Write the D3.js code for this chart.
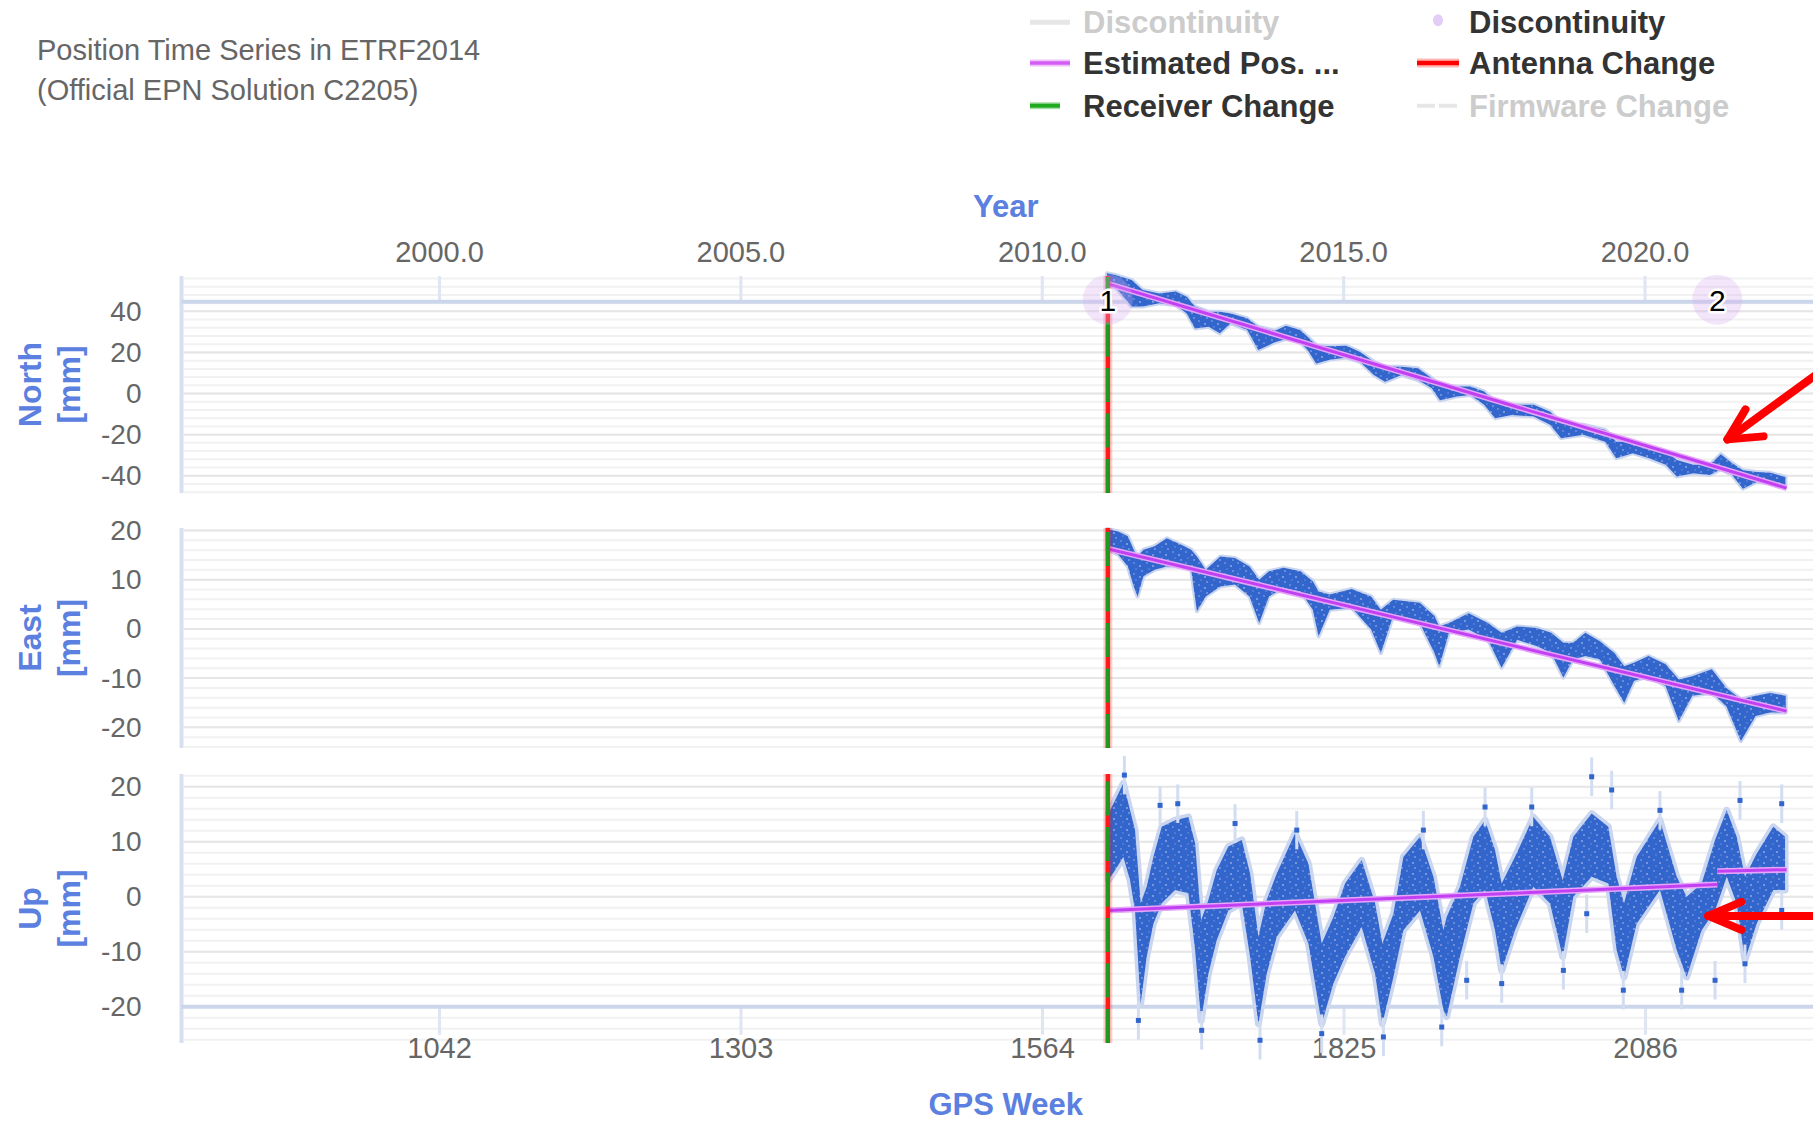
<!DOCTYPE html>
<html>
<head>
<meta charset="utf-8">
<script src="https://cdn.jsdelivr.net/npm/d3@7"></script>
<style>
  body { margin: 0; background: #fff; }
  svg text { font-family: "Liberation Sans", Arial, Helvetica, sans-serif; }
</style>
</head>
<body>
<svg id="chart" width="1813" height="1122"></svg>
<script>
// ---- Station position time series (GPS week vs. mm) ----

// North component: cloud envelope (upper / lower edge) at sampled GPS weeks
const northWeeks = [1620.2,1627.3,1641.6,1651.1,1665.4,1679.7,1689.3,1696.4,1708.3,1717.9,1727.4,1741.7,1751.2,1765.5,1775.1,1787.0,1794.1,1801.3,1813.2,1827.5,1839.4,1851.3,1860.9,1875.2,1889.5,1901.4,1908.5,1922.8,1934.8,1946.7,1956.2,1970.5,1989.6,2003.9,2013.4,2032.5,2051.5,2061.1,2075.4,2089.7,2104.0,2113.5,2127.8,2142.1,2151.6,2161.2,2170.7,2182.6,2194.5,2207.5];
const northHi    = [58.5,57.7,55.2,50.4,48.7,49.6,47.1,42.3,39.8,39.8,39.0,36.6,32.5,30.6,33.0,31.0,27.5,23.5,23.0,23.2,20.2,15.5,13.0,13.0,12.3,7.5,4.0,3.4,3.4,1.0,-3.9,-5.5,-5.5,-8.8,-14.4,-15.2,-17.7,-23.4,-23.4,-25.8,-28.2,-32.3,-34.7,-34.7,-29.5,-33.8,-37.3,-38.2,-38.6,-40.6];
const northLo    = [55.2,52.0,42.3,42.3,43.9,43.1,39.0,31.7,32.5,29.3,34.2,30.9,21.2,24.9,26.5,25.3,21.1,14.6,16.5,17.5,15.4,9.0,5.7,9.0,6.6,2.6,-3.3,-1.5,-0.7,-5.5,-12.0,-10.4,-11.2,-15.2,-21.7,-20.1,-23.4,-31.5,-29.0,-31.5,-34.7,-40.4,-38.8,-39.6,-36.8,-39.5,-46.3,-43.0,-43.4,-45.4];

// East component
const eastWeeks = [1620.2,1629.9,1638.3,1643.4,1646.7,1651.8,1661.5,1672.0,1684.6,1693.1,1698.1,1705.7,1718.3,1731.0,1743.6,1752.0,1760.5,1773.1,1787.8,1798.4,1803.4,1813.1,1832.0,1848.9,1857.3,1867.9,1891.0,1903.7,1907.9,1916.3,1933.2,1950.0,1961.8,1975.3,1992.1,2004.8,2015.3,2023.7,2034.3,2046.9,2059.5,2068.0,2076.4,2089.0,2103.8,2115.2,2126.9,2143.8,2156.4,2169.0,2181.7,2194.3,2207.8];
const eastHi    = [20.3,19.8,18.8,16.1,14.7,16.1,16.8,18.4,17.1,16.1,14.7,12.0,14.7,14.4,12.7,10.0,11.7,12.4,11.7,9.7,7.6,7.0,8.1,6.6,3.9,5.9,5.3,2.6,0.5,1.2,3.2,1.2,-0.8,0.5,0.2,-0.8,-2.8,-2.8,-0.8,-2.5,-4.9,-7.6,-6.9,-5.5,-7.2,-10.3,-9.6,-8.2,-12.0,-14.3,-13.6,-13.0,-13.6];
const eastLo    = [16.1,15.1,12.7,8.6,6.6,10.7,12.0,12.7,12.7,12.0,3.6,6.6,8.6,9.0,6.6,1.2,6.6,8.3,7.6,3.9,-1.5,3.9,4.3,-0.1,-4.9,2.6,1.2,-4.9,-7.6,-0.8,-0.1,-2.2,-7.9,-2.2,-3.5,-4.9,-9.9,-6.2,-5.5,-6.2,-11.6,-15.0,-10.6,-9.6,-11.6,-18.7,-13.6,-13.0,-15.7,-22.8,-17.7,-17.0,-17.0];

// Up component
const upWeeks = [1621.4,1627.2,1634.4,1640.2,1644.5,1649.4,1654.6,1660.4,1667.6,1679.2,1690.7,1696.5,1701.7,1708.0,1715.2,1725.3,1736.9,1744.1,1751.3,1758.5,1767.2,1783.0,1794.6,1806.1,1816.2,1826.3,1840.7,1852.3,1858.6,1868.2,1876.8,1891.2,1902.8,1911.4,1914.3,1925.8,1937.4,1947.5,1956.1,1961.9,1973.4,1989.3,2003.7,2014.7,2023.9,2039.8,2054.2,2061.4,2067.8,2078.7,2098.9,2113.4,2122.0,2135.0,2146.6,2156.7,2165.3,2172.5,2182.6,2197.0,2207.2];
const upHi    = [15.1,17.5,20.6,15.7,12.1,-1.2,1.8,7.2,12.7,13.9,14.5,9.7,-4.3,-0.6,4.8,9.1,10.3,4.2,-7.3,-0.6,4.2,11.5,6.0,-8.5,-3.7,2.4,6.6,-1.2,-8.5,-3.1,7.2,10.9,3.6,-6.1,-3.7,1.8,10.9,13.9,8.5,2.4,7.2,14.5,10.9,3.0,10.9,15.1,12.7,3.6,-1.2,7.2,13.9,3.6,0.0,2.4,10.3,15.7,10.9,3.6,7.8,12.7,10.9];
const upLo    = [3.0,4.8,7.2,3.0,-2.5,-19.4,-10.9,-4.9,-1.2,1.2,0.6,-9.7,-22.5,-14.0,-7.9,-2.5,-1.2,-10.9,-23.1,-14.0,-7.3,-2.5,-8.5,-23.1,-15.8,-10.9,-5.5,-14.0,-23.1,-14.6,-6.1,-2.5,-10.9,-20.6,-21.8,-10.9,-1.2,1.2,-6.1,-13.4,-6.1,1.8,-1.2,-10.9,0.0,3.6,2.4,-9.7,-14.6,-4.9,1.2,-9.7,-14.6,-6.1,-2.5,3.6,-1.2,-11.5,-4.9,1.2,1.2];

// Isolated Up solutions lying off the main cloud
const upOutlierWeeks  = [1635.3,1647.4,1666.2,1681.5,1702.2,1731.1,1752.7,1784.5,1806.1,1859.5,1894.1,1910.0,1931.6,1947.5,1961.9,1987.9,2015.3,2035.5,2039.8,2057.1,2067.2,2098.9,2117.7,2146.6,2168.2,2172.5,2204.3,2204.3];
const upOutlierValues = [22.1,-22.5,16.6,16.9,-24.3,13.3,-26.1,12.1,-24.9,-25.5,12.1,-23.7,-15.2,16.3,-15.8,16.3,-13.4,-3.1,21.8,19.4,-17.0,15.7,-17.0,-15.2,17.5,-12.2,16.9,-2.5];

// Estimated position (piecewise linear model, split at discontinuities)
const northTrendWeeks  = [[1620.5, 2208.5]];
const northTrendValues = [[53.5, -46.0]];
const eastTrendWeeks   = [[1620.5, 2208.5]];
const eastTrendValues  = [[16.3, -16.7]];
const upTrendWeeks     = [[1620.5, 2148.5], [2148.5, 2208.5]];
const upTrendValues    = [[-2.5, 2.2], [4.6, 4.9]];

// Events
const discontinuityWeeks  = [1621, 2148.5];
const discontinuityLabels = ["1", "2"];
const equipmentChangeWeeks = [1621];   // antenna + receiver change

// Axis ticks
const gpsWeekTicks = [1042, 1303, 1564, 1825, 2086];
const yearTicks    = [2000, 2005, 2010, 2015, 2020];
const northTicks   = [-40, -20, 0, 20, 40];
const eastTicks    = [-20, -10, 0, 10, 20];
const upTicks      = [-20, -10, 0, 10, 20];

// Legend entries
const legendLabels = ["Discontinuity", "Discontinuity", "Estimated Pos. ...", "Antenna Change", "Receiver Change", "Firmware Change"];
const legendHidden = [true, false, false, false, false, true];

// ---------------------------------------------------------------
const svg = d3.select("#chart");
const BLUE = "#3366cc", TITLE_BLUE = "#5b80df", AXIS_LINE = "#ccd6eb";
const LEFT = 181.5, RIGHT = 1830;

// dotted texture for the dense solution clouds
const defs = svg.append("defs");
const pat = defs.append("pattern").attr("id", "cloudDots").attr("patternUnits", "userSpaceOnUse")
  .attr("width", 13).attr("height", 11);
pat.append("rect").attr("width", 13).attr("height", 11).attr("fill", BLUE);
[[2, 1, "#5f86d6"], [8, 4, "#7896dc"], [4, 7, "#4f78d0"], [10, 9, "#6a8cd8"]].forEach(([px, py, c]) =>
  pat.append("rect").attr("x", px).attr("y", py).attr("width", 2).attr("height", 2).attr("fill", c));

const x = d3.scaleLinear().domain([819.1, 2246.1]).range([LEFT, RIGHT]);
const WEEKS_PER_YEAR = 52.1775;
const yearOf = w => 2000 + (w - 1042) / WEEKS_PER_YEAR;
const xYear = d3.scaleLinear().domain(x.domain().map(yearOf)).range(x.range());

const zip = (w, a, b) => w.map((d, i) => ({ w: d, hi: a[i], lo: b[i] }));

const panels = [
  { title: "North", y: d3.scaleLinear().domain([-48.4, 57.2]).range([493, 276]), ticks: northTicks, minor: 4,
    cloud: zip(northWeeks, northHi, northLo), tw: northTrendWeeks, tv: northTrendValues, halo: 4 },
  { title: "East", y: d3.scaleLinear().domain([-24.2, 20.5]).range([748, 528]), ticks: eastTicks, minor: 2,
    cloud: zip(eastWeeks, eastHi, eastLo), tw: eastTrendWeeks, tv: eastTrendValues, halo: 4 },
  { title: "Up", y: d3.scaleLinear().domain([-26.6, 22.3]).range([1043, 774]), ticks: upTicks, minor: 2,
    cloud: zip(upWeeks, upHi, upLo), tw: upTrendWeeks, tv: upTrendValues, halo: 7 }
];

// ---- grid, y axes, titles
panels.forEach(p => {
  const [d0, d1] = p.y.domain();
  const g = svg.append("g");
  const minorVals = d3.range(Math.ceil(d0 / p.minor) * p.minor, d1, p.minor);
  g.selectAll(".minor").data(minorVals).join("line")
    .attr("x1", LEFT + 2).attr("x2", RIGHT)
    .attr("y1", d => p.y(d)).attr("y2", d => p.y(d))
    .attr("stroke", "#f1f1f1").attr("stroke-width", 2);
  g.selectAll(".major").data(p.ticks).join("line")
    .attr("x1", LEFT + 2).attr("x2", RIGHT)
    .attr("y1", d => p.y(d)).attr("y2", d => p.y(d))
    .attr("stroke", "#e6e6e6").attr("stroke-width", 2);
  g.append("line").attr("x1", LEFT).attr("x2", LEFT)
    .attr("y1", p.y.range()[1]).attr("y2", p.y.range()[0])
    .attr("stroke", "#d8dfef").attr("stroke-width", 4);
  const ax = svg.append("g").attr("transform", `translate(${LEFT},0)`)
    .call(d3.axisLeft(p.y).tickValues(p.ticks).tickSize(0).tickPadding(40).tickFormat(d => String(d)));
  ax.select(".domain").remove();
  ax.selectAll("text").attr("font-family", null).attr("font-size", 28).attr("fill", "#666");
  const cy = (p.y.range()[0] + p.y.range()[1]) / 2;
  const t = svg.append("g").attr("transform", `translate(0,${cy}) rotate(-90)`);
  t.append("text").attr("x", 0).attr("y", 41).attr("text-anchor", "middle")
    .attr("font-size", 32).attr("font-weight", "bold").attr("fill", TITLE_BLUE).text(p.title);
  t.append("text").attr("x", 0).attr("y", 80).attr("text-anchor", "middle")
    .attr("font-size", 32).attr("font-weight", "bold").attr("fill", TITLE_BLUE).text("[mm]");
});

// ---- top (year) axis
const north = panels[0], up = panels[2];
const topY = north.y(44.7);
const topAx = svg.append("g").attr("transform", `translate(0,${topY})`)
  .call(d3.axisTop(xYear).tickValues(yearTicks).tickSize(topY - north.y.range()[1]).tickPadding(14).tickFormat(d3.format(".1f")));
topAx.select(".domain").remove();
topAx.selectAll("line").attr("stroke", "#dfe5f1").attr("stroke-width", 3);
topAx.selectAll("text").attr("font-family", null).attr("font-size", 29).attr("fill", "#666");
svg.append("line").attr("x1", LEFT).attr("x2", RIGHT).attr("y1", topY).attr("y2", topY)
  .attr("stroke", AXIS_LINE).attr("stroke-width", 4);

// ---- bottom (GPS week) axis
const botY = up.y(-20);
const botAx = svg.append("g").attr("transform", `translate(0,${botY})`)
  .call(d3.axisBottom(x).tickValues(gpsWeekTicks).tickSize(28).tickPadding(3).tickFormat(d => String(d)));
botAx.select(".domain").remove();
botAx.selectAll("line").attr("stroke", "#dfe5f1").attr("stroke-width", 3);
botAx.selectAll("text").attr("font-family", null).attr("font-size", 29).attr("fill", "#666");
svg.append("line").attr("x1", LEFT).attr("x2", RIGHT).attr("y1", botY).attr("y2", botY)
  .attr("stroke", AXIS_LINE).attr("stroke-width", 4);

svg.append("text").attr("x", (LEFT + RIGHT) / 2).attr("y", 216.5).attr("text-anchor", "middle")
  .attr("font-size", 31).attr("font-weight", "bold").attr("fill", TITLE_BLUE).text("Year");
svg.append("text").attr("x", (LEFT + RIGHT) / 2).attr("y", 1115).attr("text-anchor", "middle")
  .attr("font-size", 31).attr("font-weight", "bold").attr("fill", TITLE_BLUE).text("GPS Week");

// ---- data clouds (error-bar haze, then the dense solutions)
panels.forEach(p => {
  const area = d3.area().x(d => x(d.w)).y0(d => p.y(d.lo)).y1(d => p.y(d.hi));
  svg.append("path").datum(p.cloud).attr("d", area)
    .attr("fill", "#cad6f0").attr("stroke", "#cad6f0").attr("stroke-width", p.halo).attr("stroke-linejoin", "round");
  svg.append("path").datum(p.cloud).attr("d", area).attr("fill", "url(#cloudDots)");
});

// isolated Up points with their error bars
const outliers = upOutlierWeeks.map((w, i) => ({ w, v: upOutlierValues[i] }));
svg.append("g").selectAll("line").data(outliers).join("line")
  .attr("x1", d => x(d.w)).attr("x2", d => x(d.w))
  .attr("y1", d => up.y(d.v + 3.5)).attr("y2", d => up.y(d.v - 3.5))
  .attr("stroke", "#d3ddf2").attr("stroke-width", 3);
svg.append("g").selectAll("rect").data(outliers).join("rect")
  .attr("x", d => x(d.w) - 2.5).attr("y", d => up.y(d.v) - 2.5)
  .attr("width", 5).attr("height", 5).attr("fill", BLUE);

// ---- estimated position lines
panels.forEach(p => {
  p.tw.forEach((seg, i) => {
    const pts = seg.map((w, j) => [x(w), p.y(p.tv[i][j])]);
    svg.append("path").attr("d", d3.line()(pts)).attr("stroke", "#e7a6fa").attr("stroke-width", 6).attr("fill", "none");
    svg.append("path").attr("d", d3.line()(pts)).attr("stroke", "#c040f2").attr("stroke-width", 3).attr("fill", "none");
  });
});

// ---- antenna / receiver change lines (drawn bottom-up so the dash pattern starts at the panel foot)
panels.forEach(p => {
  equipmentChangeWeeks.forEach(w => {
    const xx = x(w), yb = p.y.range()[0], yt = p.y.range()[1];
    svg.append("line").attr("x1", xx).attr("x2", xx).attr("y1", yb).attr("y2", yt)
      .attr("stroke", "rgba(255,0,0,0.2)").attr("stroke-width", 9);
    svg.append("line").attr("x1", xx).attr("x2", xx).attr("y1", yb).attr("y2", yt)
      .attr("stroke", "#ff1a1a").attr("stroke-width", 4.5);
    svg.append("line").attr("x1", xx).attr("x2", xx).attr("y1", yb).attr("y2", yt)
      .attr("stroke", "#1f9a1f").attr("stroke-width", 4).attr("stroke-dasharray", "34 11.5");
  });
});

// ---- discontinuity markers on the year axis
const disc = svg.append("g");
discontinuityWeeks.forEach((w, i) => {
  disc.append("circle").attr("cx", x(w)).attr("cy", topY - 2).attr("r", 25)
    .attr("fill", "#d6adf1").attr("fill-opacity", 0.3);
  disc.append("text").attr("x", x(w)).attr("y", topY + 9).attr("text-anchor", "middle")
    .attr("font-size", 30).attr("fill", "#000")
    .attr("stroke", "#fff").attr("stroke-width", 5).attr("paint-order", "stroke")
    .attr("stroke-linejoin", "round").text(discontinuityLabels[i]);
});

// ---- annotation arrows
function arrow(px, py, shaft, barbs) {
  const g = svg.append("g").attr("stroke", "#ff0000").attr("stroke-width", 8)
    .attr("stroke-linecap", "round").attr("fill", "none");
  g.append("line").attr("x1", px).attr("y1", py).attr("x2", px + shaft[0]).attr("y2", py + shaft[1]);
  barbs.forEach(b => g.append("line").attr("x1", px).attr("y1", py).attr("x2", px + b[0]).attr("y2", py + b[1]));
}
arrow(x(2157.4), north.y(-22.3), [137, -100], [[18, -30], [36, -3]]);
arrow(x(2140.8), up.y(-3.5), [140, 0], [[33, -14], [33, 14]]);

// ---- subtitle
svg.append("text").attr("x", 37).attr("y", 60).attr("font-size", 29).attr("fill", "#666")
  .text("Position Time Series in ETRF2014");
svg.append("text").attr("x", 37).attr("y", 100).attr("font-size", 29).attr("fill", "#666")
  .text("(Official EPN Solution C2205)");

// ---- legend (two columns)
const legX = [1030, 1417], legTextX = [1083, 1469], legBase = [33.3, 74, 116.7];
legendLabels.forEach((lab, i) => {
  const col = i % 2, row = Math.floor(i / 2);
  const g = svg.append("g");
  const sy = legBase[row] - 11;
  const x0 = legX[col];
  if (i === 0) {
    g.append("line").attr("x1", x0).attr("x2", x0 + 40).attr("y1", sy).attr("y2", sy).attr("stroke", "#e6e6e6").attr("stroke-width", 5);
  } else if (i === 1) {
    g.append("ellipse").attr("cx", x0 + 21).attr("cy", sy - 2).attr("rx", 5).attr("ry", 6).attr("fill", "#e3cdf6");
  } else if (i === 2) {
    g.append("line").attr("x1", x0).attr("x2", x0 + 40).attr("y1", sy).attr("y2", sy).attr("stroke", "#f0c2fb").attr("stroke-width", 7);
    g.append("line").attr("x1", x0).attr("x2", x0 + 40).attr("y1", sy).attr("y2", sy).attr("stroke", "#d45df5").attr("stroke-width", 3.5);
  } else if (i === 3) {
    g.append("line").attr("x1", x0).attr("x2", x0 + 42).attr("y1", sy).attr("y2", sy).attr("stroke", "#ffb8b8").attr("stroke-width", 9);
    g.append("line").attr("x1", x0).attr("x2", x0 + 42).attr("y1", sy).attr("y2", sy).attr("stroke", "#ff0000").attr("stroke-width", 4.5);
  } else if (i === 4) {
    g.append("line").attr("x1", x0).attr("x2", x0 + 30).attr("y1", sy).attr("y2", sy).attr("stroke", "#a9dfa9").attr("stroke-width", 7);
    g.append("line").attr("x1", x0).attr("x2", x0 + 30).attr("y1", sy).attr("y2", sy).attr("stroke", "#1faa1f").attr("stroke-width", 4);
  } else {
    g.append("line").attr("x1", x0).attr("x2", x0 + 40).attr("y1", sy).attr("y2", sy).attr("stroke", "#e6e6e6").attr("stroke-width", 4).attr("stroke-dasharray", "18 4");
  }
  g.append("text").attr("x", legTextX[col]).attr("y", legBase[row])
    .attr("font-size", 31).attr("font-weight", "bold")
    .attr("fill", legendHidden[i] ? "#cccccc" : "#333333").text(lab);
});
</script>
</body>
</html>
